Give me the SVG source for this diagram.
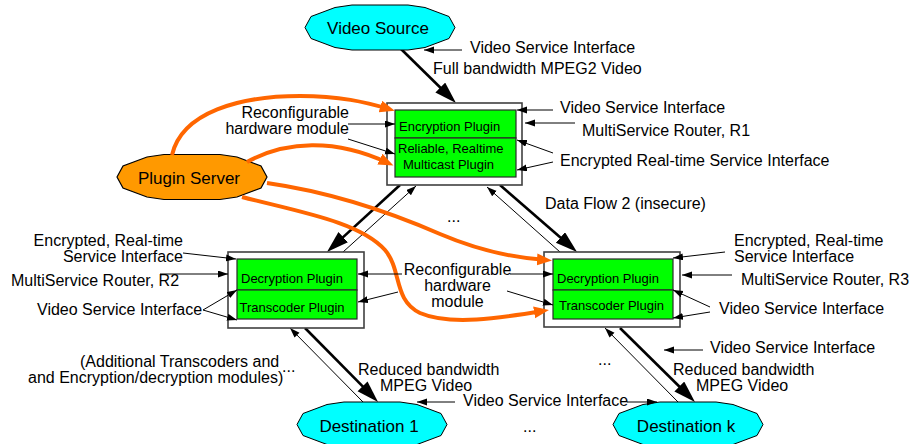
<svg xmlns="http://www.w3.org/2000/svg" width="912" height="444" viewBox="0 0 912 444">
  <style>
    text { font-family: "Liberation Sans", Arial, sans-serif; fill: #000; }
    .lbl { font-size: 16px; }
    .node-txt { font-size: 17px; text-anchor: middle; }
    .plug-txt { font-size: 13px; }
    .cloud { fill: #00FFFF; stroke: #000; stroke-width: 1; }
    .server { fill: #FF9900; stroke: #000; stroke-width: 1.2; }
    .router { fill: #FFFFFF; stroke: #404040; stroke-width: 1.6; }
    .plugin { fill: #00FF00; stroke: #2a2a2a; stroke-width: 1.2; }
    .thick { stroke: #000; stroke-width: 2.6; fill: none; marker-end: url(#ah-big); }
    .thin { stroke: #000; stroke-width: 1; fill: none; marker-end: url(#ah-small); }
    .ptr { stroke: #000; stroke-width: 1; fill: none; marker-end: url(#ah-small); }
    .orange { stroke: #FF6600; stroke-width: 4; fill: none; marker-end: url(#ah-orange); }
  </style>
  <defs>
    <!-- flattened elliptical outline shared by the oval nodes -->
    <polygon id="oval" points="-75,0 -69,-11 -45,-20 -28,-22.5 28,-22.5 45,-20 69,-11 75,0 69,11 45,20 28,22.5 -28,22.5 -45,20 -69,11"/>
    <marker id="ah-big" markerUnits="userSpaceOnUse" markerWidth="24" markerHeight="16" refX="16" refY="7" orient="auto">
      <path d="M0,0 L22,7 L0,14 z" fill="#000"/>
    </marker>
    <marker id="ah-small" markerUnits="userSpaceOnUse" markerWidth="12" markerHeight="8" refX="10" refY="3.5" orient="auto">
      <path d="M0,0 L10,3.5 L0,7 z" fill="#000"/>
    </marker>
    <marker id="ah-orange" markerUnits="userSpaceOnUse" markerWidth="17" markerHeight="14" refX="9" refY="6" orient="auto">
      <path d="M0,0 L15,6 L0,12 z" fill="#FF6600"/>
    </marker>
  </defs>

  <rect width="912" height="444" fill="#FFFFFF"/>

  <!-- data flow connectors -->
  <g id="connectors">
    <line class="thick" x1="400" y1="48" x2="451.7" y2="98.8"/>
    <line class="thick" x1="400" y1="185" x2="331.4" y2="247.9"/>
    <line class="thin" x1="343" y1="252" x2="416" y2="186"/>
    <line class="thick" x1="500" y1="185" x2="572.5" y2="248"/>
    <line class="thin" x1="560" y1="252" x2="487" y2="187"/>
    <line class="thick" x1="305" y1="328" x2="373.8" y2="397.7"/>
    <line class="thin" x1="363" y1="402" x2="290" y2="328"/>
    <line class="thick" x1="620" y1="328" x2="690.7" y2="397.8"/>
    <line class="thin" x1="678" y1="402" x2="605" y2="328"/>
  </g>

  <!-- routers -->
  <g id="router-r1">
    <rect class="router" x="387" y="103" width="135" height="82"/>
    <rect class="plugin" x="395" y="110" width="121" height="28"/>
    <rect class="plugin" x="395" y="138" width="121" height="39"/>
    <text class="plug-txt" x="399" y="131">Encryption Plugin</text>
    <text class="plug-txt"><tspan x="398" y="153">Reliable, Realtime</tspan><tspan x="403" y="168.5">Multicast Plugin</tspan></text>
  </g>
  <g id="router-r2">
    <rect class="router" x="228" y="252" width="136" height="76"/>
    <rect class="plugin" x="237" y="259" width="120" height="31"/>
    <rect class="plugin" x="237" y="290" width="120" height="29"/>
    <text class="plug-txt" x="241" y="283">Decryption Plugin</text>
    <text class="plug-txt" x="239.5" y="312">Transcoder Plugin</text>
  </g>
  <g id="router-r3">
    <rect class="router" x="544" y="252" width="136" height="75"/>
    <rect class="plugin" x="553" y="259" width="120" height="31"/>
    <rect class="plugin" x="553" y="290" width="120" height="29"/>
    <text class="plug-txt" x="557" y="283">Decryption Plugin</text>
    <text class="plug-txt" x="559" y="310">Transcoder Plugin</text>
  </g>

  <!-- oval nodes -->
  <g id="video-source">
    <use href="#oval" class="cloud" transform="translate(380,27.5)"/>
    <text class="node-txt" x="378" y="33.5">Video Source</text>
  </g>
  <g id="plugin-server">
    <use href="#oval" class="server" transform="translate(192,177)"/>
    <text class="node-txt" x="189" y="184">Plugin Server</text>
  </g>
  <g id="destination-1">
    <use href="#oval" class="cloud" transform="translate(372,424.5)"/>
    <text class="node-txt" x="369" y="431.5">Destination 1</text>
  </g>
  <g id="destination-k">
    <use href="#oval" class="cloud" transform="translate(688,424.5)"/>
    <text class="node-txt" x="686" y="431.5">Destination k</text>
  </g>

  <!-- plugin delivery paths -->
  <g id="plugin-paths">
    <path class="orange" d="M172,155 C182,112 240,96 300,96 C340,96 365,102 389,109"/>
    <path class="orange" d="M247,162 C285,141 335,138 388,163"/>
    <path class="orange" d="M267,183 C330,192 385,210 440,234 C480,251 515,258 546,260"/>
    <path class="orange" d="M242,197 C300,212 360,222 385,250 C402,270 393,300 420,313 C450,326 500,318 543,311"/>
  </g>

  <!-- callouts -->
  <g id="callouts">
    <line class="ptr" x1="462" y1="50" x2="424" y2="50"/>
    <text class="lbl" x="470" y="53">Video Service Interface</text>
    <text class="lbl" x="433" y="74">Full bandwidth MPEG2 Video</text>

    <line class="ptr" x1="553" y1="110" x2="517" y2="110"/>
    <text class="lbl" x="560" y="112.5">Video Service Interface</text>
    <line class="ptr" x1="575" y1="123" x2="525" y2="123"/>
    <text class="lbl" x="582" y="136">MultiService Router, R1</text>
    <line class="ptr" x1="553" y1="153" x2="517" y2="140"/>
    <line class="ptr" x1="553" y1="162" x2="517" y2="170"/>
    <text class="lbl" x="560" y="166">Encrypted Real-time Service Interface</text>

    <line class="ptr" x1="348" y1="124" x2="395" y2="124"/>
    <line class="ptr" x1="348" y1="139" x2="395" y2="154"/>
    <text class="lbl" text-anchor="end"><tspan x="349" y="117.5">Reconfigurable</tspan><tspan x="349" y="133.5">hardware module</tspan></text>

    <text class="lbl" x="545" y="209">Data Flow 2 (insecure)</text>
    <text class="lbl" x="447" y="222">...</text>

    <line class="ptr" x1="183" y1="253" x2="236" y2="259"/>
    <text class="lbl" text-anchor="end"><tspan x="183" y="246">Encrypted, Real-time</tspan><tspan x="183" y="262">Service Interface</tspan></text>
    <line class="ptr" x1="160" y1="274" x2="228" y2="274"/>
    <text class="lbl" x="11" y="286">MultiService Router, R2</text>
    <line class="ptr" x1="203" y1="310" x2="237" y2="290"/>
    <line class="ptr" x1="203" y1="310" x2="237" y2="320"/>
    <text class="lbl" x="37" y="314.5">Video Service Interface</text>

    <line class="ptr" x1="402" y1="274" x2="358" y2="274"/>
    <line class="ptr" x1="398" y1="292" x2="358" y2="302"/>
    <line class="ptr" x1="510" y1="274" x2="553" y2="274"/>
    <line class="ptr" x1="507" y1="291" x2="553" y2="305"/>
    <text class="lbl" text-anchor="middle"><tspan x="457.5" y="275">Reconfigurable</tspan><tspan x="457.5" y="291">hardware</tspan><tspan x="457.5" y="307">module</tspan></text>

    <line class="ptr" x1="725" y1="252" x2="673" y2="258"/>
    <text class="lbl"><tspan x="734" y="246">Encrypted, Real-time</tspan><tspan x="734" y="262">Service Interface</tspan></text>
    <line class="ptr" x1="732" y1="275" x2="682" y2="275"/>
    <text class="lbl" x="741" y="285">MultiService Router, R3</text>
    <line class="ptr" x1="710" y1="307" x2="673" y2="290"/>
    <line class="ptr" x1="710" y1="312" x2="673" y2="318"/>
    <text class="lbl" x="719" y="313.5">Video Service Interface</text>

    <text class="lbl"><tspan x="80" y="367">(Additional Transcoders and</tspan><tspan x="28" y="383">and Encryption/decryption modules)</tspan><tspan x="282" y="372">...</tspan></text>

    <text class="lbl"><tspan x="358" y="374.5">Reduced bandwidth</tspan><tspan x="380" y="390.5">MPEG Video</tspan></text>
    <line class="ptr" x1="455" y1="402" x2="417" y2="402"/>
    <line class="ptr" x1="627" y1="402" x2="657" y2="402"/>
    <text class="lbl" x="463" y="405.5">Video Service Interface</text>
    <text class="lbl" x="523" y="432">...</text>
    <text class="lbl" x="598" y="365">...</text>

    <line class="ptr" x1="703" y1="350" x2="664" y2="350"/>
    <text class="lbl" x="710" y="352.5">Video Service Interface</text>
    <text class="lbl"><tspan x="673" y="374.5">Reduced bandwidth</tspan><tspan x="696" y="390.5">MPEG Video</tspan></text>
  </g>
</svg>
